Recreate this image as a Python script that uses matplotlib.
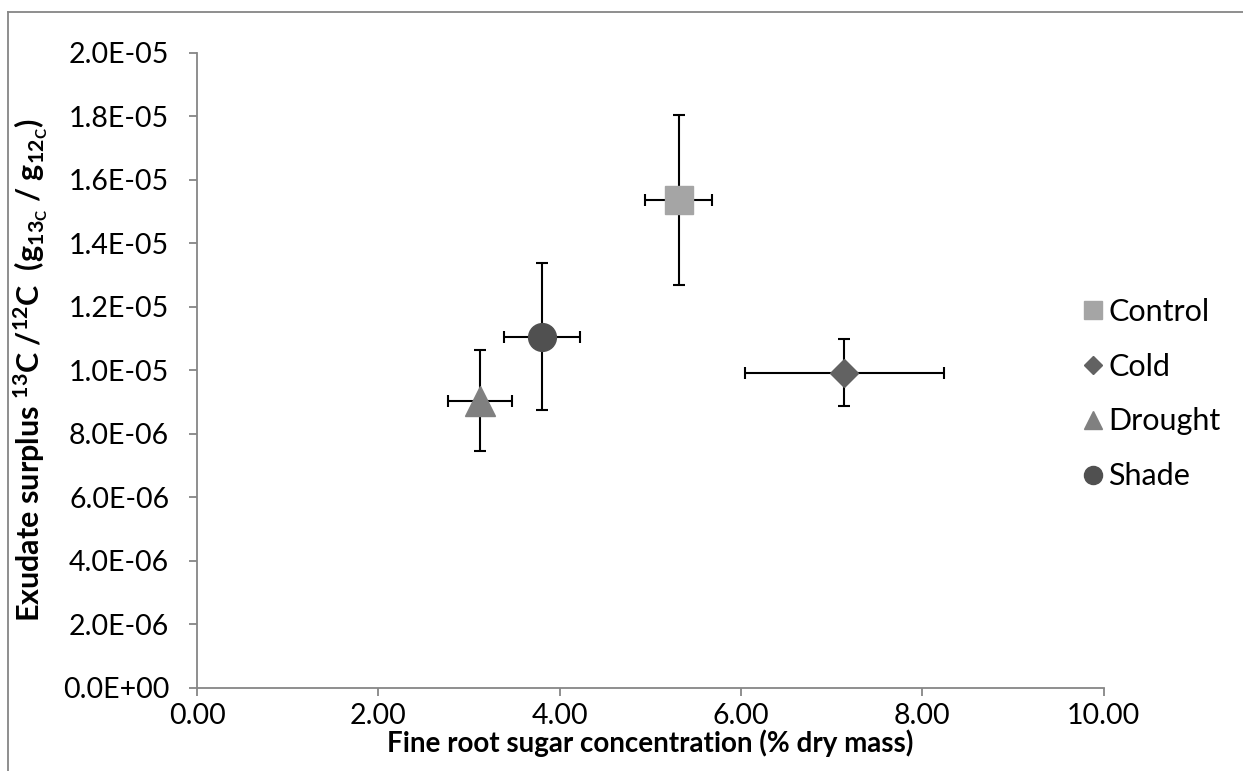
import matplotlib
matplotlib.use('Agg')
import matplotlib.pyplot as plt
from matplotlib.lines import Line2D
from matplotlib.ticker import FuncFormatter

plt.rcParams['font.family'] = ['Lato', 'DejaVu Sans']
plt.rcParams['mathtext.default'] = 'regular'

# treatment means and standard errors
treatments = ['Control', 'Cold', 'Drought', 'Shade']
sugar = [5.31, 7.14, 3.12, 3.80]
sugar_err = [0.37, 1.10, 0.35, 0.42]
surplus = [1.536e-05, 9.92e-06, 9.04e-06, 1.106e-05]
surplus_err = [2.68e-06, 1.05e-06, 1.59e-06, 2.31e-06]

markers = ['s', 'D', '^', 'o']
sizes = [20, 14, 21, 20]
colors = ['#a5a5a5', '#626262', '#808080', '#505050']

fig = plt.figure(figsize=(12.43, 7.71), dpi=100)
ax = fig.add_axes([0.1585, 0.1077, 0.7295, 0.824])

for x, xe, y, ye, m, s, c in zip(sugar, sugar_err, surplus, surplus_err,
                                 markers, sizes, colors):
    ax.errorbar(x, y, xerr=xe, yerr=ye, fmt='none', ecolor='black',
                elinewidth=1.5, capsize=4.5, capthick=1.5, zorder=2)
    ax.plot(x, y, marker=m, markersize=s, color=c, markeredgecolor=c,
            linestyle='none', zorder=3)

ax.set_xlim(0, 10)
ax.set_ylim(0, 2.0e-05)
ax.set_xticks([0, 2, 4, 6, 8, 10])
ax.set_yticks([i * 2e-06 for i in range(11)])
ax.xaxis.set_major_formatter(FuncFormatter(lambda v, p: f'{v:.2f}'))
ax.yaxis.set_major_formatter(FuncFormatter(lambda v, p: f'{v:.1E}'))
ax.yaxis.get_offset_text().set_visible(False)

for side in ['top', 'right']:
    ax.spines[side].set_visible(False)
for side in ['left', 'bottom']:
    ax.spines[side].set_color('#868686')
    ax.spines[side].set_linewidth(1.3)
ax.tick_params(axis='both', direction='out', length=6, width=1.3,
               color='#868686', labelsize=20.5, labelcolor='black')
ax.tick_params(axis='y', pad=14)
ax.tick_params(axis='x', pad=5)

ax.set_xlabel('Fine root sugar concentration (% dry mass)', fontsize=20,
              fontweight='bold', labelpad=0)
ax.set_ylabel(r'Exudate surplus $^{13}$C /$^{12}$C  (g$_{13_{C}}$ / g$_{12_{C}}$)',
              fontsize=22, fontweight='bold', labelpad=9)

handles = [Line2D([], [], marker=m, markersize=s * 0.65, color=c,
                  linestyle='none') for m, s, c in zip(markers, sizes, colors)]
fig.legend(handles, treatments, loc='center left',
           bbox_to_anchor=(1052 / 1243, 1 - 394 / 771), frameon=False,
           fontsize=22, labelspacing=0.88, handletextpad=0.05,
           handlelength=0.9)

# outer chart frame
fig.add_artist(Line2D([8 / 1243, 8 / 1243], [0, 1 - 12 / 771],
                      transform=fig.transFigure, color='#868686', lw=1.3))
fig.add_artist(Line2D([8 / 1243, 1], [1 - 12 / 771, 1 - 12 / 771],
                      transform=fig.transFigure, color='#868686', lw=1.3))

fig.savefig('out.png', dpi=100)
